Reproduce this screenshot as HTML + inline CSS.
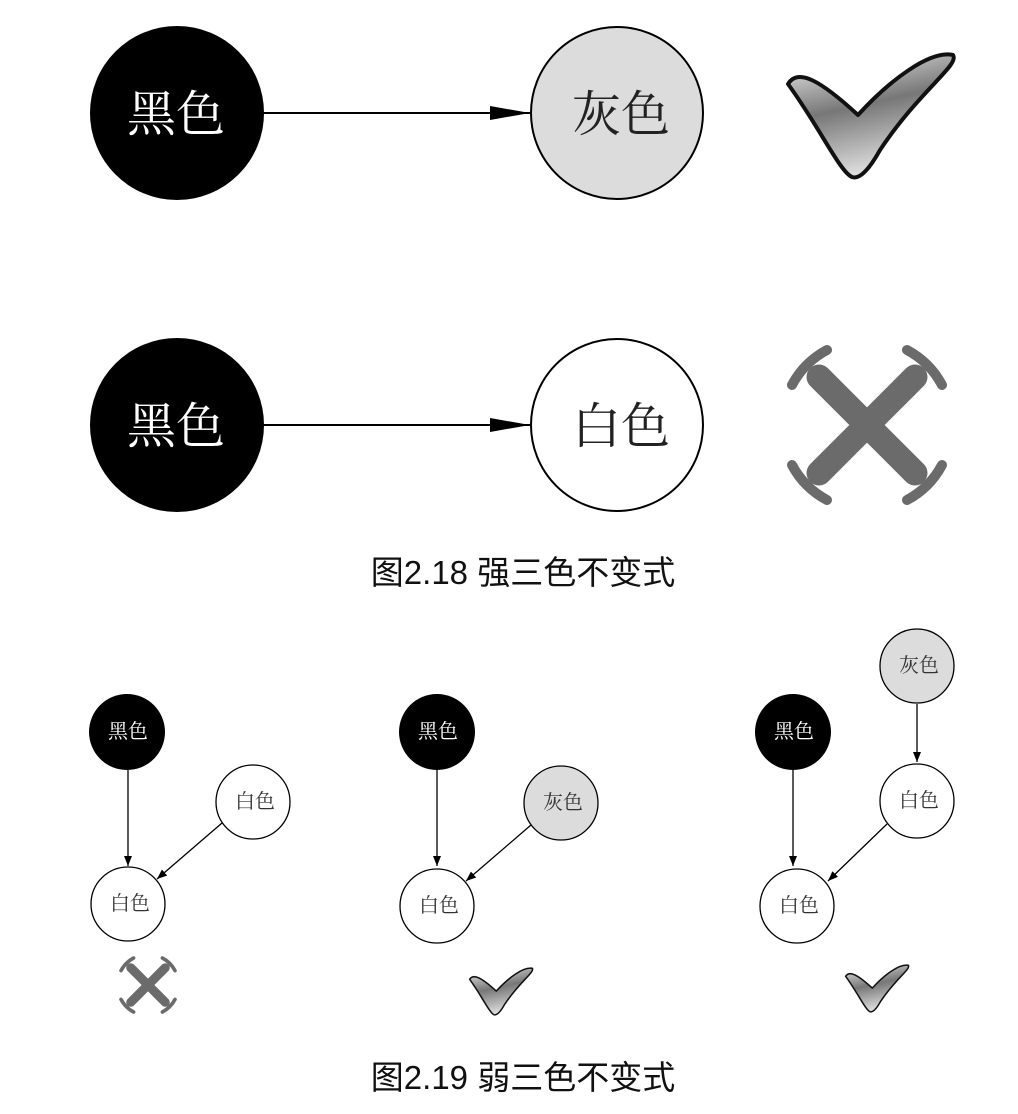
<!DOCTYPE html>
<html><head><meta charset="utf-8"><style>
html,body{margin:0;padding:0;background:#fff;}
svg{display:block;}
.s{font-family:"Liberation Serif","Noto Serif CJK SC",serif;}
.c{font-family:"Liberation Sans","Noto Sans CJK SC",sans-serif;}
</style></head><body>
<svg width="1018" height="1114" viewBox="0 0 1018 1114" xmlns="http://www.w3.org/2000/svg">
<defs>
<marker id="ah" markerWidth="10" markerHeight="8" refX="10" refY="4" orient="auto" markerUnits="userSpaceOnUse">
<path d="M0,0 L10,4 L0,8 z" fill="#000"/></marker>
<marker id="ahB" markerWidth="40" markerHeight="14" refX="40" refY="7" orient="auto" markerUnits="userSpaceOnUse">
<path d="M0,0 L40,7 L0,14 z" fill="#000"/></marker>
<linearGradient id="cg" x1="0" y1="0" x2="0.3" y2="1">
<stop offset="0" stop-color="#f0f0f0"/><stop offset="0.5" stop-color="#777"/><stop offset="1" stop-color="#ddd"/></linearGradient>
<g id="check">
<path d="M-72,-36 C-62,-52 -40,-40 -2,-5 C30,-40 70,-70 93,-65 C100,-55 60,-30 20,30 C10,48 0,60 -8,57 C-20,52 -40,8 -72,-36 Z" fill="url(#cg)" stroke="#111" stroke-width="4" stroke-linejoin="round"/>
</g>
<g id="xm" fill="none" stroke="#6b6b6b" stroke-linecap="round">
<path d="M-48,-48 L48,48 M48,-48 L-48,48" stroke-width="25"/>
<g stroke-width="10">
<path d="M-75,-40 A85,85 0 0 1 -40,-75"/>
<path d="M40,-75 A85,85 0 0 1 75,-40"/>
<path d="M75,40 A85,85 0 0 1 40,75"/>
<path d="M-40,75 A85,85 0 0 1 -75,40"/>
</g>
</g>
</defs>

<line x1="263" y1="113" x2="530" y2="113" stroke="#000" stroke-width="2" marker-end="url(#ahB)"/>
<circle cx="177" cy="113" r="87" fill="#000"/>
<text x="176" y="131" class="s" font-size="49" fill="#fff" text-anchor="middle">黑色</text>
<circle cx="617" cy="113" r="86" fill="#dcdcdc" stroke="#000" stroke-width="2"/>
<text x="621" y="131" class="s" font-size="49" fill="#222" text-anchor="middle">灰色</text>
<use href="#check" transform="translate(860,120)"/>

<line x1="263" y1="425" x2="530" y2="425" stroke="#000" stroke-width="2" marker-end="url(#ahB)"/>
<circle cx="177" cy="425" r="87" fill="#000"/>
<text x="176" y="443" class="s" font-size="49" fill="#fff" text-anchor="middle">黑色</text>
<circle cx="617" cy="425" r="86" fill="#fff" stroke="#000" stroke-width="2"/>
<text x="621" y="443" class="s" font-size="49" fill="#222" text-anchor="middle">白色</text>
<use href="#xm" transform="translate(867,425)"/>

<text x="523" y="584" class="c" font-size="33" fill="#111" text-anchor="middle">图2.18 强三色不变式</text>

<line x1="128" y1="770" x2="128" y2="866" stroke="#000" stroke-width="1.3" marker-end="url(#ah)"/>
<line x1="222" y1="823" x2="157" y2="879" stroke="#000" stroke-width="1.3" marker-end="url(#ah)"/>
<circle cx="127" cy="732" r="38" fill="#000"/>
<text x="128" y="738" class="s" font-size="20" fill="#fff" text-anchor="middle">黑色</text>
<circle cx="253" cy="802" r="37" fill="#fff" stroke="#000" stroke-width="1.3"/>
<text x="255" y="808" class="s" font-size="20" fill="#333" text-anchor="middle">白色</text>
<circle cx="128" cy="904" r="37" fill="#fff" stroke="#000" stroke-width="1.3"/>
<text x="130" y="910" class="s" font-size="20" fill="#333" text-anchor="middle">白色</text>
<use href="#xm" transform="translate(148,985) scale(0.36)"/>

<line x1="437" y1="770" x2="437" y2="866" stroke="#000" stroke-width="1.3" marker-end="url(#ah)"/>
<line x1="531" y1="825" x2="466" y2="881" stroke="#000" stroke-width="1.3" marker-end="url(#ah)"/>
<circle cx="437" cy="732" r="38" fill="#000"/>
<text x="438" y="738" class="s" font-size="20" fill="#fff" text-anchor="middle">黑色</text>
<circle cx="561" cy="803" r="37" fill="#dcdcdc" stroke="#000" stroke-width="1.3"/>
<text x="563" y="809" class="s" font-size="20" fill="#333" text-anchor="middle">灰色</text>
<circle cx="437" cy="906" r="37" fill="#fff" stroke="#000" stroke-width="1.3"/>
<text x="439" y="912" class="s" font-size="20" fill="#333" text-anchor="middle">白色</text>
<use href="#check" transform="translate(497,993) scale(0.38)"/>

<line x1="917" y1="704" x2="917" y2="762" stroke="#000" stroke-width="1.3" marker-end="url(#ah)"/>
<line x1="793" y1="770" x2="793" y2="866" stroke="#000" stroke-width="1.3" marker-end="url(#ah)"/>
<line x1="887" y1="824" x2="828" y2="881" stroke="#000" stroke-width="1.3" marker-end="url(#ah)"/>
<circle cx="917" cy="666" r="37" fill="#dcdcdc" stroke="#000" stroke-width="1.3"/>
<text x="919" y="672" class="s" font-size="20" fill="#333" text-anchor="middle">灰色</text>
<circle cx="793" cy="732" r="38" fill="#000"/>
<text x="794" y="738" class="s" font-size="20" fill="#fff" text-anchor="middle">黑色</text>
<circle cx="917" cy="801" r="37" fill="#fff" stroke="#000" stroke-width="1.3"/>
<text x="919" y="807" class="s" font-size="20" fill="#333" text-anchor="middle">白色</text>
<circle cx="797" cy="906" r="37" fill="#fff" stroke="#000" stroke-width="1.3"/>
<text x="799" y="912" class="s" font-size="20" fill="#333" text-anchor="middle">白色</text>
<use href="#check" transform="translate(873,990) scale(0.38)"/>

<text x="523" y="1089" class="c" font-size="33" fill="#111" text-anchor="middle">图2.19 弱三色不变式</text>
</svg>
</body></html>
